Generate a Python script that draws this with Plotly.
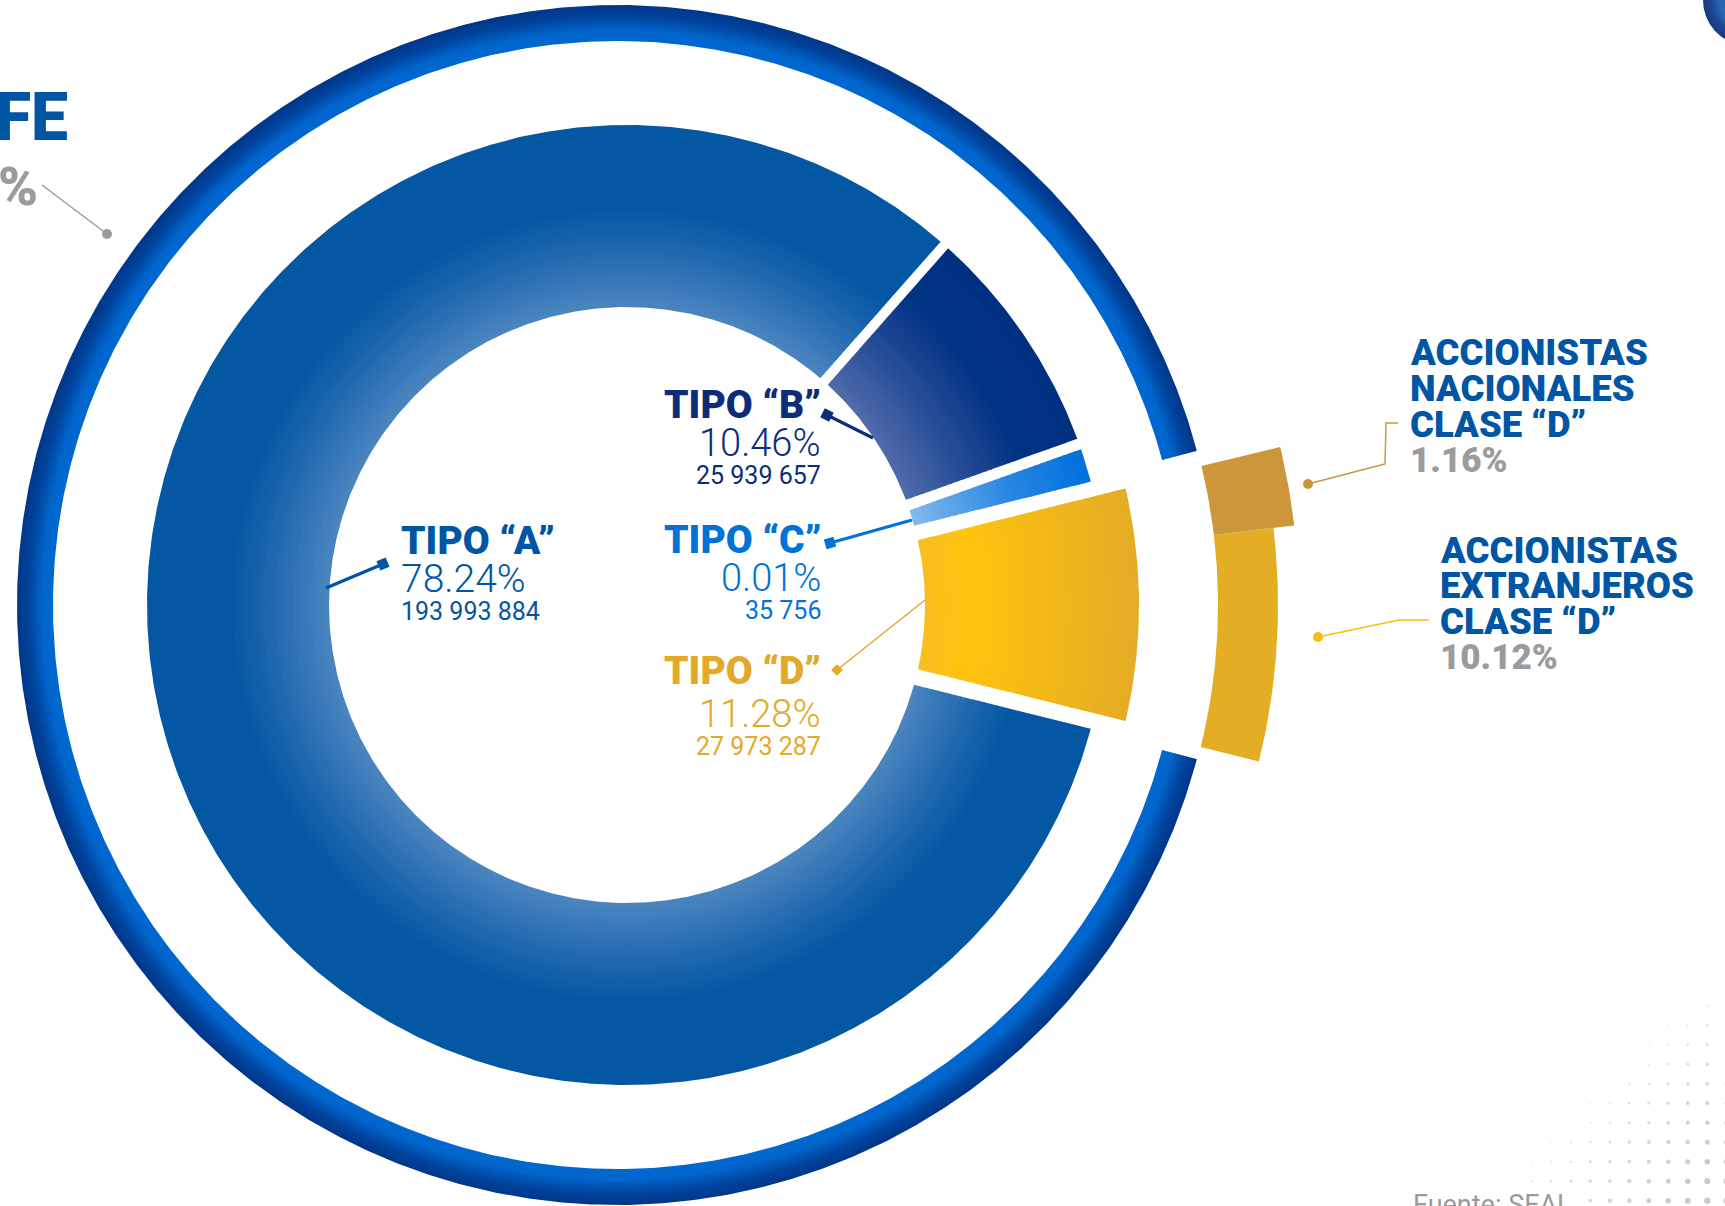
import numpy as np
import plotly.graph_objects as go

# ---------------- data ----------------
tipo_labels = ["TIPO “A”", "TIPO “B”", "TIPO “C”", "TIPO “D”"]
tipo_pct = [78.24, 10.46, 0.01, 11.28]
tipo_acciones = ["193 993 884", "25 939 657", "35 756", "27 973 287"]
# arc widths (degrees) as drawn in the infographic, which is not to scale
tipo_arc_deg = [297.4, 29.0, 5.6, 28.0]

clase_d_labels = [["ACCIONISTAS", "NACIONALES", "CLASE “D”"],
                  ["ACCIONISTAS", "EXTRANJEROS", "CLASE “D”"]]
clase_d_pct = [1.16, 10.12]
clase_d_arc_deg = [6.8, 20.7]

fuente = "Fuente: SEAL"

# ---------------- geometry / style ----------------
W, H = 1725, 1206
CX, CY = 627, 605
R_IN, R_OUT, R_OUT_D = 298, 480, 512
START_D = -14.0
RING_C = (617, 605)
RING_R = (564, 600)
RING_GAP = 14.9

BOLD = "Roboto, 'Open Sans', sans-serif"
LIGHT = "Roboto, 'Open Sans', sans-serif"
C_A = "#0055a5"
C_B = "#0b2d7a"
C_C = "#0072d8"
C_D = "#e3a928"
GRAY = "#9b9b9b"

fig = go.Figure()


def lerp_color(stops, r):
    rs = [s[0] for s in stops]
    if r <= rs[0]:
        c = stops[0][1]
    elif r >= rs[-1]:
        c = stops[-1][1]
    else:
        j = np.searchsorted(rs, r) - 1
        t = (r - rs[j]) / (rs[j + 1] - rs[j])
        c = tuple(stops[j][1][k] + t * (stops[j + 1][1][k] - stops[j][1][k]) for k in range(3))
    return "rgb(%d,%d,%d)" % tuple(int(round(v)) for v in c)


def sector_xy(cx, cy, r1, r2, a0, a1, h0=0.0, h1=0.0):
    def arc(r, rev=False):
        r = max(r, 0.01)
        s = a0 + np.degrees(np.arcsin(min(h0 / r, 0.99)))
        e = a1 - np.degrees(np.arcsin(min(h1 / r, 0.99)))
        k = max(int(abs(e - s) / 0.4) + 2, 3)
        t = np.radians(np.linspace(s, e, k))
        if rev:
            t = t[::-1]
        return cx + r * np.cos(t), cy - r * np.sin(t)
    xo, yo = arc(r2)
    xi, yi = arc(r1, rev=True)
    xs = np.concatenate([xo, xi, xo[:1]])
    ys = np.concatenate([yo, yi, yo[:1]])
    return xs, ys


def add_sector(cx, cy, r1, r2, a0, a1, stops, h0=0.0, h1=0.0, nb=28):
    edges = np.linspace(r1, r2, nb + 1)
    bands = []
    for i in range(nb):
        col = lerp_color(stops, 0.5 * (edges[i] + edges[i + 1]))
        if bands and bands[-1][2] == col:
            bands[-1][1] = edges[i + 1]
        else:
            bands.append([edges[i], edges[i + 1], col])
    for lo, hi, col in bands:
        lo2 = max(r1, lo - 0.6)
        hi2 = min(r2, hi + 0.6)
        xs, ys = sector_xy(cx, cy, lo2, hi2, a0, a1, h0, h1)
        fig.add_trace(go.Scatter(x=xs, y=ys, mode="lines", fill="toself",
                                 fillcolor=col, line=dict(width=0, color=col),
                                 hoverinfo="skip", showlegend=False))


# ---------------- outer decorative ring ----------------
ring_stops = [(564, (0, 104, 208)), (575, (0, 102, 205)), (588, (0, 70, 160)), (600, (0, 55, 138))]
add_sector(RING_C[0], RING_C[1], RING_R[0], RING_R[1], RING_GAP, 360 - RING_GAP, ring_stops, nb=24)

# small decorative circle in the top right corner
corner_stops = [(0, (44, 108, 182)), (30, (40, 104, 178)), (38, (30, 72, 148)), (46, (24, 56, 128))]
add_sector(1749, 0, 0.1, 46, 0, 360, corner_stops, nb=16)

# ---------------- main donut ----------------
grad = {
    0: [(298, (76, 134, 192)), (340, (44, 112, 180)), (398, (3, 87, 163)), (480, (3, 87, 163))],
    1: [(298, (80, 108, 170)), (360, (38, 76, 150)), (420, (0, 50, 132)), (480, (0, 48, 130))],
    2: [(298, (132, 184, 236)), (400, (40, 134, 226)), (480, (0, 112, 221))],
    3: [(298, (246, 190, 32)), (345, (255, 196, 14)), (512, (227, 173, 38))],
}
order = [3, 2, 1, 0]            # drawn counter-clockwise starting at START_D
half_gaps = [8.0, 7.5, 5.5, 5.0, 8.0]
seg_angles = {}
a = START_D
for k, i in enumerate(order):
    a0, a1 = a, a + tipo_arc_deg[i]
    seg_angles[i] = (a0, a1)
    r2 = R_OUT_D if i == 3 else R_OUT
    add_sector(CX, CY, R_IN, r2, a0, a1, grad[i], half_gaps[k], half_gaps[k + 1], nb=30)
    a = a1

# ---------------- Clase "D" split (outer pieces) ----------------
clase_r_out = [672, 651]
clase_cols = [(203, 151, 58), (227, 174, 36)]
d0, d1 = seg_angles[3]
a = d0 + 0.1
for i in [1, 0]:                  # extranjeros (bottom) then nacionales (top)
    a0, a1 = a, a + clase_d_arc_deg[i]
    col = clase_cols[i]
    add_sector(CX, CY, 591, clase_r_out[i], a0, a1, [(0, col), (1000, col)], nb=1)
    a = a1

# ---------------- dotted texture (bottom right) ----------------
dx, dy, ds, dc = [], [], [], []
for r in range(0, 11):
    for c in range(-2, 12):
        s = c + r
        if s >= 7:
            dx.append(1512.3 + 19.5 * c)
            dy.append(1005.7 + 19.5 * r)
            ds.append(0.8 + 0.42 * (s - 7))
            g = int(230 - 4.5 * min(s - 7, 12))
            dc.append("rgb(%d,%d,%d)" % (g, g, g))
fig.add_trace(go.Scatter(x=dx, y=dy, mode="markers",
                         marker=dict(size=ds, color=dc, line=dict(width=0)),
                         hoverinfo="skip", showlegend=False))


# ---------------- leader lines ----------------
def leader(xs, ys, color, width, sym=None, msize=0, angle=0, at_end=0):
    fig.add_trace(go.Scatter(x=xs, y=ys, mode="lines", line=dict(color=color, width=width),
                             hoverinfo="skip", showlegend=False))
    if sym:
        fig.add_trace(go.Scatter(x=[xs[at_end]], y=[ys[at_end]], mode="markers",
                                 marker=dict(symbol=sym, size=msize, color=color, angle=angle,
                                             line=dict(width=0)),
                                 hoverinfo="skip", showlegend=False))


leader([383, 326], [564, 588], C_A, 3.5, "square", 10, -23)
leader([827, 873], [415, 438], C_B, 3.2, "square", 10, 27)
leader([830, 912], [543, 520], C_C, 3.2, "square", 10, -16)
leader([837, 925], [670, 600], C_D, 1.5, "diamond", 9, 0)
leader([1308, 1385, 1386, 1398], [484, 464, 423, 423], "#c9953a", 1.5, "circle", 10, 0)
leader([1318, 1399, 1429], [637, 620, 620], "#f7bd10", 1.5, "circle", 10, 0)
leader([107, 42], [234, 185], GRAY, 1.5, "circle", 10, 0)


# ---------------- texts ----------------
def txt(x, y, s, size, color, weight, anchor="left", family=BOLD, bg=None):
    fig.add_annotation(x=x, y=y, xref="x", yref="y", text=s, showarrow=False,
                       xanchor=anchor, yanchor="middle", borderpad=0, borderwidth=0,
                       bgcolor=bg,
                       font=dict(family=family, size=size, color=color, weight=weight))


tipo_cols = [C_A, C_B, C_C, C_D]
# tipo A (left aligned)
txt(401, 541, tipo_labels[0], 39, C_A, 900)
txt(401, 579, f"{tipo_pct[0]:.2f}%", 39, C_A, 300, family=LIGHT)
txt(401, 611, tipo_acciones[0], 25, C_A, 400, family=LIGHT)
# tipo B, C, D (right aligned)
ys_b = {1: (405, 443, 475.5), 2: (540, 577.5, 610.5), 3: (671, 713.5, 746.5)}
for i in [1, 2, 3]:
    y1, y2, y3 = ys_b[i]
    txt(821, y1, tipo_labels[i], 39, tipo_cols[i], 900, anchor="right")
    txt(821, y2, f"{tipo_pct[i]:.2f}%", 38, tipo_cols[i], 300, anchor="right", family=LIGHT)
    txt(821, y3, tipo_acciones[i], 25, tipo_cols[i], 400, anchor="right", family=LIGHT)

# clase D labels
pos = [(1410, [352.5, 388, 424, 460]), (1440, [550, 585, 621, 657])]
for i in range(2):
    x0, yl = pos[i]
    for j, line in enumerate(clase_d_labels[i]):
        txt(x0, yl[j], line, 36.5, C_A, 900)
    txt(x0, yl[3], f"{clase_d_pct[i]:.2f}%", 35, GRAY, 900)

# cut-off texts at the left edge
txt(68, 117, "FE", 66, C_A, 900, anchor="right")
txt(38, 186, "%", 54, GRAY, 900, anchor="right")

# source
txt(1413, 1205, fuente, 27, "#9a9a9a", 400, family=LIGHT, bg="white")

fig.update_layout(
    width=W, height=H,
    margin=dict(l=0, r=0, t=0, b=0),
    paper_bgcolor="white", plot_bgcolor="white",
    showlegend=False,
    xaxis=dict(range=[0, W], visible=False, fixedrange=True),
    yaxis=dict(range=[H, 0], visible=False, fixedrange=True),
)

fig.write_html("out.html",
               config={"displayModeBar": False, "staticPlot": True},
               post_script="document.body.style.margin='0';document.body.style.overflow='hidden';")
